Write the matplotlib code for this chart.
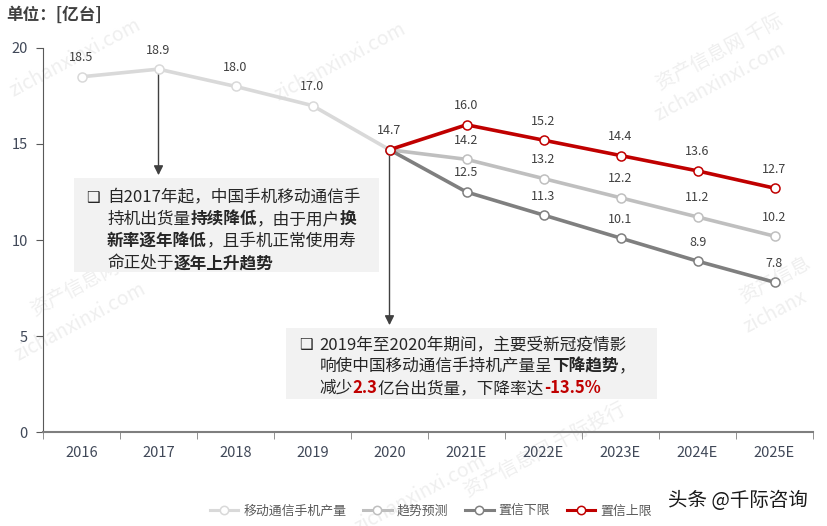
import matplotlib
matplotlib.use("Agg")
import matplotlib.pyplot as plt
from matplotlib.lines import Line2D
from matplotlib.patches import Rectangle
from matplotlib.offsetbox import TextArea, HPacker, VPacker, AnnotationBbox

plt.rcParams['font.family'] = ['Noto Sans CJK SC', 'DejaVu Sans']

# Datos
anios = ["2016", "2017", "2018", "2019", "2020", "2021E", "2022E", "2023E", "2024E", "2025E"]
produccion = [18.5, 18.9, 18.0, 17.0, 14.7]
tendencia = [14.7, 14.2, 13.2, 12.2, 11.2, 10.2]
limite_inf = [14.7, 12.5, 11.3, 10.1, 8.9, 7.8]
limite_sup = [14.7, 16.0, 15.2, 14.4, 13.6, 12.7]

x_hist = list(range(0, 5))
x_pred = list(range(4, 10))

fig = plt.figure(figsize=(8.28, 5.26), dpi=100)
ax = fig.add_axes([43 / 828, 1 - 432 / 526, 770 / 828, 384 / 526])

# Marca de agua
wm_color = "#EFEFEF"
marcas = [(75, 288, "资产信息网"), (80, 322, "zichanxinxi.com"),
          (545, 450, "资产信息网 千际投行"), (420, 494, "zichanxinxi.com"),
          (720, 52, "资产信息网 千际"), (720, 82, "zichanxinxi.com"),
          (775, 280, "资产信息"), (775, 312, "zichanx"),
          (75, 58, "zichanxinxi.com"), (340, 62, "zichanxinxi.com")]
for mx, my, mt in marcas:
    fig.text(mx / 828, 1 - my / 526, mt, fontsize=14, color=wm_color, rotation=28,
             ha="center", va="center", zorder=-1)

series = [
    (x_hist, produccion, "#D9D9D9", "移动通信手机产量"),
    (x_pred, tendencia, "#BFBFBF", "趋势预测"),
    (x_pred, limite_inf, "#7F7F7F", "置信下限"),
    (x_pred, limite_sup, "#C00000", "置信上限"),
]
handles = []
for xs, ys, c, nombre in series:
    ax.plot(xs, ys, color=c, lw=2.6, marker="o", ms=6.5, mfc="white", mec=c, mew=1.1, zorder=3)
    handles.append(Line2D([], [], color=c, lw=2.2, marker="o", ms=6, mfc="white", mec=c, mew=1.1))
    for xi, yi in zip(xs, ys):
        if xi == 4 and nombre != "移动通信手机产量":
            continue
        ax.annotate(f"{yi:.1f}", (xi, yi), xytext=(0, 9), textcoords="offset points",
                    ha="center", va="bottom", fontsize=9, color="#404040", zorder=4)

# Flechas
ax.annotate("", xy=(1, 13.23), xytext=(1, 18.9),
            arrowprops=dict(arrowstyle="-|>", color="#404040", lw=1, mutation_scale=14), zorder=2)
ax.annotate("", xy=(4, 5.42), xytext=(4, 14.7),
            arrowprops=dict(arrowstyle="-|>", color="#404040", lw=1, mutation_scale=14), zorder=2)

# Cuadros de texto
def linea(partes):
    areas = []
    for texto, estilo in partes:
        props = dict(fontsize=12, color="#262626")
        if estilo in ("b", "r"):
            props["fontweight"] = "bold"
        if estilo == "r":
            props["color"] = "#C00000"
        areas.append(TextArea(texto, textprops=props))
    return HPacker(children=areas, pad=0, sep=0, align="baseline")

def cuadro(lineas, caja_xy, caja_wh, texto_xy):
    ax.add_patch(Rectangle(caja_xy, caja_wh[0], caja_wh[1], facecolor="#F2F2F2",
                           edgecolor="none", zorder=5))
    bala = TextArea("❑", textprops=dict(fontsize=11, color="#262626"))
    cuerpo = VPacker(children=[linea(l) for l in lineas], pad=0, sep=2.9, align="left")
    caja = HPacker(children=[VPacker(children=[bala], pad=0, sep=0), cuerpo], pad=0, sep=5, align="top")
    ab = AnnotationBbox(caja, texto_xy, xycoords="data", box_alignment=(0, 1), frameon=False,
                        pad=0, zorder=6)
    ax.add_artist(ab)

texto1 = [
    [("自2017年起，中国手机移动通信手", "n")],
    [("持机出货量", "n"), ("持续降低", "b"), ("，由于用户", "n"), ("换", "b")],
    [("新率逐年降低", "b"), ("，且手机正常使用寿", "n")],
    [("命正处于", "n"), ("逐年上升趋势", "b")],
]
texto2 = [
    [("2019年至2020年期间，主要受新冠疫情影", "n")],
    [("响使中国移动通信手持机产量呈", "n"), ("下降趋势", "b"), ("，", "n")],
    [("减少", "n"), ("2.3", "r"), ("亿台出货量，下降率达", "n"), ("-13.5%", "r")],
]
cuadro(texto1, (-0.091, 8.33), (3.961, 4.90), (0.065, 12.66))
cuadro(texto2, (2.662, 1.72), (4.806, 3.70), (2.825, 5.0))

# Ejes
ax.set_xlim(-0.5, 9.5)
ax.set_ylim(0, 20)
ax.set_yticks([0, 5, 10, 15, 20])
ax.set_xticks(range(10))
ax.set_xticklabels(anios)
ax.set_xticks([i - 0.5 for i in range(11)], minor=True)
ax.tick_params(axis="x", which="major", length=0, pad=10, labelsize=10.5, labelcolor="#404858")
ax.tick_params(axis="x", which="minor", length=5, direction="out", color="#7F7F7F")
ax.tick_params(axis="y", length=5, direction="out", color="#595959", labelsize=10.5,
               labelcolor="#404858", pad=6)
for s in ["top", "right"]:
    ax.spines[s].set_visible(False)
ax.spines["left"].set_color("#595959")
ax.spines["bottom"].set_color("#7F7F7F")
ax.spines["bottom"].set_linewidth(1.5)
ax.patch.set_alpha(0)

fig.text(6 / 828, 1 - 15 / 526, "单位：[亿台]", fontsize=12, fontweight="bold", color="#404040",
         ha="left", va="center")

fig.legend(handles, [s[3] for s in series], loc="center", bbox_to_anchor=(431 / 828, 1 - 511 / 526),
           ncol=4, frameon=False, fontsize=9.3, labelcolor="#595959", handlelength=2.2,
           columnspacing=1.3, handletextpad=0.4)

fig.text(738 / 828, 1 - 500 / 526, "头条 @千际咨询", fontsize=14, color="#1A1A1A",
         ha="center", va="center")

fig.savefig("out.png", dpi=100)
